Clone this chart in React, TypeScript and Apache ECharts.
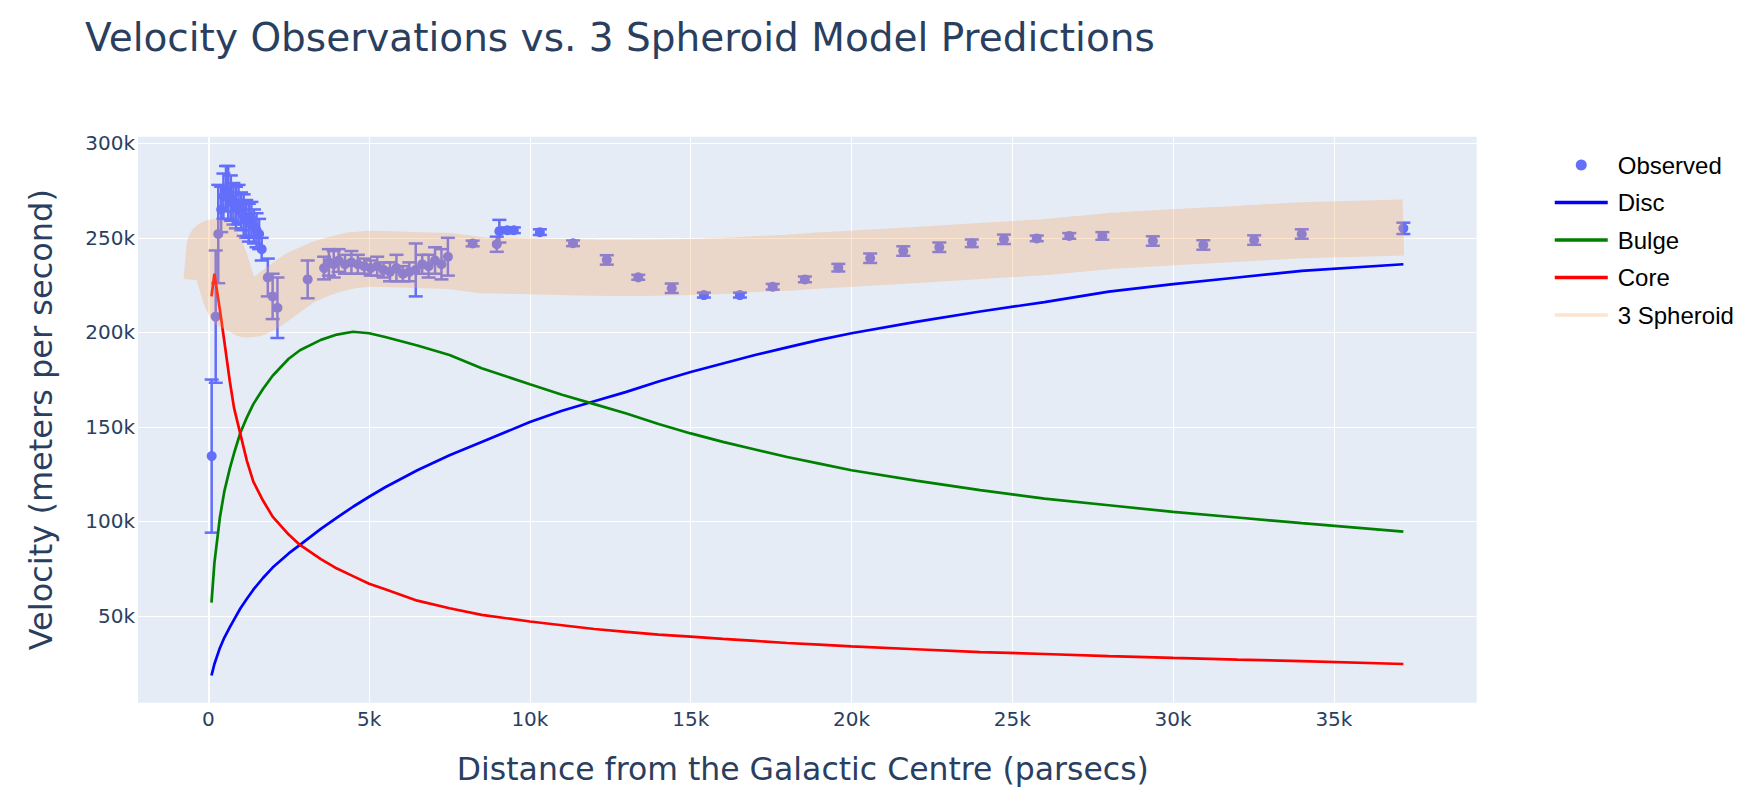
import React, { useEffect, useRef } from "react";
import * as echarts from "echarts";

// Observed rotation-curve points (distance in parsecs, velocity in m/s, error in m/s)
const obsX = [
  105, 230, 310, 400, 470, 550, 620, 700, 780, 860, 940, 1020, 1100, 1180, 1260, 1340, 1420, 1500, 1580, 1660,
  1850, 2000, 2150, 3090, 3600, 3750, 3900, 4050, 4250, 4450, 4650, 4850, 5050, 5250, 5450, 5650, 5850, 6050,
  6250, 6450, 6650, 6850, 7050, 7250, 7450, 8220, 8970, 9050, 9300, 9500, 10310, 11340, 12390, 13370, 14410,
  15410, 16530, 17550, 18550, 19590, 20580, 21610, 22730, 23740, 24740, 25760, 26770, 27800, 29370, 30940,
  32520, 34000, 37160,
];
const obsY = [
  134500, 208300, 252000, 265000, 272000, 276000, 274000, 271000, 268000, 266000, 268000, 264000, 262000, 260000,
  258000, 260000, 256000, 254000, 252000, 244000, 229000, 219000, 213000, 228000, 234000, 237000, 236000, 238000,
  236000, 237000, 236000, 235000, 234000, 235000, 233000, 232000, 234000, 231000, 232000, 233000, 236000, 235000,
  238000, 236000, 240000, 247000, 246600, 253500, 254000, 254000, 253000, 247100, 238300, 229100, 223300, 219700,
  219700, 224100, 228000, 234200, 239200, 243000, 245000, 247100, 249200, 249700, 251000, 251000, 248300, 246200,
  248800, 252000, 255000,
];
const obsErr = [
  40500, 35000, 26000, 12000, 12000, 12000, 14000, 12000, 11000, 11000, 10000, 10000, 11000, 10000, 10000, 9000,
  9000, 9000, 8000, 6000, 10000, 12000, 16000, 10000, 6000, 7000, 7000, 6000, 5000, 6000, 5000, 4000, 4000, 5000,
  4000, 5000, 7000, 4000, 5000, 14000, 5000, 6000, 7000, 8000, 10000, 1500, 4000, 6000, 1500, 1500, 1500, 1500,
  2500, 1300, 2500, 1300, 1300, 1500, 1500, 2000, 2500, 2500, 2500, 2000, 2500, 1500, 1500, 2000, 2500, 2500,
  2500, 2500, 3000,
];

// Model curves (distance in parsecs, velocity in m/s)
const modelX = [
  100, 190, 360, 500, 670, 800, 1000, 1200, 1400, 1700, 2000, 2500, 2850, 3500, 4000, 4500, 5000, 5500, 6500,
  7500, 8500, 10000, 11000, 12000, 13000, 14000, 15000, 16000, 17000, 18000, 19000, 20000, 22000, 24000, 26000,
  28000, 30000, 32000, 34000, 37160,
];
const discV = [
  18400, 24500, 33000, 38500, 44000, 48000, 54000, 59000, 63800, 70000, 75500, 83000, 87500, 96000, 102000,
  107700, 113000, 118000, 127000, 135000, 142000, 152500, 158500, 163500, 168500, 174000, 179000, 183500, 188000,
  192000, 196000, 199500, 205500, 211000, 216000, 221500, 225500, 229000, 232500, 236000,
];
const bulgeV = [
  57000, 78000, 102000, 116000, 128000, 136000, 147000, 155000, 162000, 170000, 177000, 186000, 190500, 196000,
  198800, 200300, 199500, 197500, 193000, 188000, 181000, 172500, 167000, 162000, 157000, 151500, 146500, 142000,
  138000, 134000, 130500, 127000, 121500, 116500, 112000, 108500, 105000, 102000, 99000, 94500,
];
const coreV = [
  219000, 231000, 212000, 195000, 174000, 160000, 146000, 132000, 121000, 111000, 102500, 93000, 87500, 80000,
  75000, 71000, 67000, 64000, 58000, 54000, 50500, 47000, 45000, 43000, 41500, 40000, 39000, 37800, 36700, 35600,
  34700, 33800, 32300, 30800, 29800, 28700, 27700, 26800, 26000, 24500,
];
const spheroidV = [
  227000, 245000, 237600, 230100, 220400, 215400, 214100, 212100, 212400, 214800, 218300, 224600, 228800, 233700,
  236300, 238200, 238900, 238800, 238200, 237700, 235500, 235000, 234600, 234100, 234000, 234200, 234600, 235100,
  236100, 236800, 238000, 238900, 240900, 243000, 245100, 248300, 250300, 252100, 254000, 255400,
];

const xTicks = [0, 5000, 10000, 15000, 20000, 25000, 30000, 35000];
const yTicks = [50000, 100000, 150000, 200000, 250000, 300000];

const FONT = "DejaVu Sans";
const INK = "#2a3f5f";
const OBS = "#636efa";

const kFmt = (v: number) => (v === 0 ? "0" : `${Math.round(v / 1000)}k`);

function buildOption() {
  const pts = obsX.map((x, i) => [x, obsY[i]]);
  const bars = obsX.map((x, i) => [x, obsY[i], obsY[i] - obsErr[i], obsY[i] + obsErr[i]]);
  const line = (vals: number[]) => modelX.map((x, i) => [x, vals[i]]);

  return {
    animation: false,
    backgroundColor: "#ffffff",
    textStyle: { fontFamily: FONT },
    title: {
      text: "Velocity Observations vs. 3 Spheroid Model Predictions",
      left: 85,
      top: 18,
      padding: 0,
      textStyle: { fontFamily: FONT, fontSize: 39, fontWeight: "normal", color: INK },
    },
    grid: {
      left: 138,
      top: 136.7,
      width: 1338.7,
      height: 566,
      show: true,
      backgroundColor: "#E5ECF6",
      borderWidth: 0,
    },
    legend: {
      orient: "vertical",
      left: 1553,
      top: 153,
      padding: 0,
      itemWidth: 53,
      itemHeight: 11,
      itemGap: 13.5,
      selectedMode: false,
      textStyle: { fontFamily: "Liberation Sans", fontSize: 24, color: "#000", padding: [0, 0, 0, 5] },
      data: [
        { name: "Observed", icon: "circle", itemStyle: { color: OBS } },
        { name: "Disc", lineStyle: { width: 3.5 }, itemStyle: { opacity: 0 } },
        { name: "Bulge", lineStyle: { width: 3.5 }, itemStyle: { opacity: 0 } },
        { name: "Core", lineStyle: { width: 3.5 }, itemStyle: { opacity: 0 } },
        { name: "3 Spheroid", lineStyle: { width: 3.5, opacity: 0.3 }, itemStyle: { opacity: 0 } },
      ],
    },
    xAxis: {
      type: "value",
      min: -2186,
      max: 39440,
      axisLine: { show: false },
      axisTick: { show: false, customValues: xTicks },
      axisLabel: { customValues: xTicks, formatter: kFmt, color: INK, fontSize: 20, margin: 6, fontFamily: FONT },
      splitLine: { show: true, lineStyle: { color: "#ffffff", width: 1 } },
      name: "Distance from the Galactic Centre (parsecs)",
      nameLocation: "middle",
      nameGap: 50,
      nameTextStyle: { fontSize: 31.5, color: INK, fontFamily: FONT, padding: [0, 9, 0, 0] },
    },
    yAxis: {
      type: "value",
      min: 4020,
      max: 303500,
      axisLine: { show: false },
      axisTick: { show: false, customValues: yTicks },
      axisLabel: { customValues: yTicks, formatter: kFmt, color: INK, fontSize: 20, margin: 3, fontFamily: FONT },
      splitLine: { show: true, lineStyle: { color: "#ffffff", width: 1 } },
      name: "Velocity (meters per second)",
      nameLocation: "middle",
      nameGap: 81,
      nameRotate: 90,
      nameTextStyle: { fontSize: 32, color: INK, fontFamily: FONT },
    },
    series: [
      {
        name: "Observed",
        type: "scatter",
        data: pts,
        symbol: "circle",
        symbolSize: 10,
        itemStyle: { color: OBS, opacity: 1 },
        z: 2,
      },
      {
        name: "Observed",
        type: "custom",
        data: bars,
        encode: { x: 0, y: [1, 2, 3] },
        z: 1,
        renderItem: (params: any, api: any) => {
          const x = api.value(0);
          const top = api.coord([x, api.value(3)]);
          const bot = api.coord([x, api.value(2)]);
          const hw = 7;
          const style = { stroke: OBS, lineWidth: 2.5 };
          return {
            type: "group",
            children: [
              { type: "line", shape: { x1: top[0], y1: top[1], x2: bot[0], y2: bot[1] }, style },
              { type: "line", shape: { x1: top[0] - hw, y1: top[1], x2: top[0] + hw, y2: top[1] }, style },
              { type: "line", shape: { x1: bot[0] - hw, y1: bot[1], x2: bot[0] + hw, y2: bot[1] }, style },
            ],
          };
        },
        markLine: {
          silent: true,
          z: 0.5,
          symbol: "none",
          label: { show: false },
          lineStyle: { color: "#ffffff", width: 2, type: "solid" },
          data: [{ xAxis: 0 }],
        },
      },
      {
        name: "Disc",
        type: "line",
        data: line(discV),
        symbol: "none",
        lineStyle: { color: "#0000ff", width: 2.7 },
        itemStyle: { color: "#0000ff" },
      },
      {
        name: "Bulge",
        type: "line",
        data: line(bulgeV),
        symbol: "none",
        lineStyle: { color: "#008000", width: 2.7 },
        itemStyle: { color: "#008000" },
      },
      {
        name: "Core",
        type: "line",
        data: line(coreV),
        symbol: "none",
        lineStyle: { color: "#ff0000", width: 2.7 },
        itemStyle: { color: "#ff0000" },
      },
      {
        name: "3 Spheroid",
        type: "line",
        data: line(spheroidV),
        symbol: "none",
        lineStyle: { color: "#f4a460", width: 56, opacity: 0.3, join: "round", cap: "butt" },
        itemStyle: { color: "#f4a460" },
      },
    ],
  };
}

export default function App() {
  const ref = useRef<HTMLDivElement>(null);
  useEffect(() => {
    document.body.style.margin = "0";
    const chart = echarts.init(ref.current as HTMLDivElement, null, { renderer: "svg" });
    chart.setOption(buildOption() as any);
    return () => chart.dispose();
  }, []);
  return (
    <div
      ref={ref}
      style={{ position: "fixed", left: 0, top: 0, width: 1746, height: 799, background: "#ffffff" }}
    />
  );
}
